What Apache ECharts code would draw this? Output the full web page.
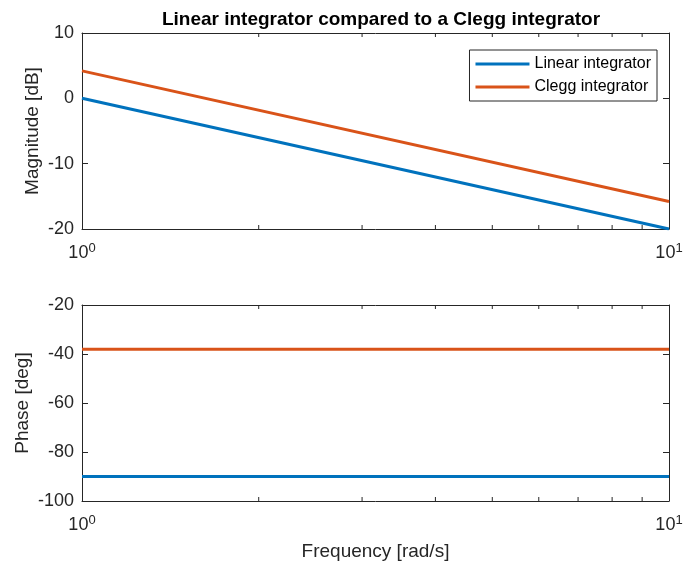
<!DOCTYPE html>
<html>
<head>
<meta charset="utf-8">
<script src="https://cdn.jsdelivr.net/npm/echarts@6/dist/echarts.min.js"></script>
<style>
  html, body { margin: 0; padding: 0; background: #fff; }
  #main { width: 687px; height: 565px; }
</style>
</head>
<body>
<div id="main"></div>
<script>
// frequency points (rad/s) at the ends of the plotted range
const freq = [1, 10]
// magnitude in dB
const magLinear = [0, -20]
const magClegg = [4.2, -15.8]
// phase in degrees
const phaseLinear = [-90, -90]
const phaseClegg = [-38.1, -38.1]
// log minor tick positions
const minorTicks = [2, 3, 4, 5, 6, 7, 8, 9]

const FONT = '"Liberation Sans", Arial, Helvetica, sans-serif'
const AX = '#262626'
const BLUE = '#0072BD'
const ORANGE = '#D95319'

const pairs = (xs, ys) => xs.map((x, i) => [x, ys[i]])

const myChart = echarts.init(document.getElementById('main'))

function xAxes(gridIndex, withName) {
    const base = {
        type: 'log', logBase: 10, min: 1, max: 10, gridIndex,
        axisLine: { show: true, onZero: false, lineStyle: { color: AX, width: 1 } },
        axisTick: { show: true, inside: true, length: 6, lineStyle: { color: AX } },
        splitLine: { show: false }
    }
    return [
        Object.assign({}, base, {
            position: 'bottom',
            axisLabel: {
                show: true, margin: 13, color: AX, fontFamily: FONT,
                formatter: v => '{b|10}{s|' + Math.round(Math.log10(v)) + '}',
                rich: {
                    b: { fontSize: 18, fontFamily: FONT, color: AX },
                    s: { fontSize: 13, fontFamily: FONT, color: AX, verticalAlign: 'top', padding: [0, 0, 10, 0] }
                }
            },
            name: withName ? 'Frequency [rad/s]' : '',
            nameLocation: 'middle', nameGap: 41,
            nameTextStyle: { fontSize: 19, color: AX, fontFamily: FONT }
        }),
        Object.assign({}, base, { position: 'top', axisLabel: { show: false } })
    ]
}

function yAxes(gridIndex, min, max, interval, name, gap) {
    const base = {
        type: 'value', min, max, interval, gridIndex,
        axisLine: { show: true, onZero: false, lineStyle: { color: AX, width: 1 } },
        axisTick: { show: true, inside: true, length: 6, lineStyle: { color: AX } },
        splitLine: { show: false }
    }
    return [
        Object.assign({}, base, {
            position: 'left',
            axisLabel: { show: true, margin: 8, fontSize: 18, color: AX, fontFamily: FONT },
            name, nameLocation: 'middle', nameGap: gap, nameMoveOverlap: false,
            nameTextStyle: { fontSize: 19, color: AX, fontFamily: FONT }
        }),
        Object.assign({}, base, { position: 'right', axisLabel: { show: false } })
    ]
}

// minor ticks on the top and bottom edges of a log x axis
function minorTickSeries(xAxisIndex, yAxisIndex, ymin, ymax) {
    return {
        type: 'custom', xAxisIndex, yAxisIndex, silent: true, z: 5,
        data: minorTicks.map(v => [v]),
        renderItem(params, api) {
            const x = api.value(0)
            const b = api.coord([x, ymin])
            const t = api.coord([x, ymax])
            const style = { stroke: AX, lineWidth: 1 }
            return {
                type: 'group',
                children: [
                    { type: 'line', shape: { x1: b[0], y1: b[1], x2: b[0], y2: b[1] - 4 }, style },
                    { type: 'line', shape: { x1: t[0], y1: t[1], x2: t[0], y2: t[1] + 4 }, style }
                ]
            }
        }
    }
}

const lineStyle = (color) => ({
    type: 'line', showSymbol: false, symbol: 'none', smooth: false,
    lineStyle: { color, width: 3 }, itemStyle: { color }
})

myChart.setOption({
    backgroundColor: '#fff',
    animation: false,
    title: {
        text: 'Linear integrator compared to a Clegg integrator',
        left: 376, top: 5, textAlign: 'center',
        textStyle: { fontSize: 19, fontWeight: 'bold', color: '#000', fontFamily: FONT }
    },
    legend: {
        right: 30, top: 50, orient: 'vertical',
        data: ['Linear integrator', 'Clegg integrator'],
        itemWidth: 54, itemHeight: 3, itemGap: 7,
        icon: 'rect',
        backgroundColor: '#fff',
        borderColor: AX, borderWidth: 1, borderRadius: 0,
        padding: [6, 6, 6, 6],
        textStyle: { fontSize: 16, color: '#000', fontFamily: FONT }
    },
    grid: [
        { left: 82, right: 18, top: 33, height: 196 },
        { left: 82, right: 18, top: 305, height: 196 }
    ],
    xAxis: xAxes(0, false).concat(xAxes(1, true)),
    yAxis: yAxes(0, -20, 10, 10, 'Magnitude [dB]', 40).concat(yAxes(1, -100, -20, 20, 'Phase [deg]', 50)),
    series: [
        Object.assign(lineStyle(BLUE), { name: 'Linear integrator', xAxisIndex: 0, yAxisIndex: 0, data: pairs(freq, magLinear) }),
        Object.assign(lineStyle(ORANGE), { name: 'Clegg integrator', xAxisIndex: 0, yAxisIndex: 0, data: pairs(freq, magClegg) }),
        Object.assign(lineStyle(BLUE), { name: 'Linear integrator', xAxisIndex: 2, yAxisIndex: 2, data: pairs(freq, phaseLinear) }),
        Object.assign(lineStyle(ORANGE), { name: 'Clegg integrator', xAxisIndex: 2, yAxisIndex: 2, data: pairs(freq, phaseClegg) }),
        minorTickSeries(0, 0, -20, 10),
        minorTickSeries(2, 2, -100, -20)
    ]
})
</script>
</body>
</html>
